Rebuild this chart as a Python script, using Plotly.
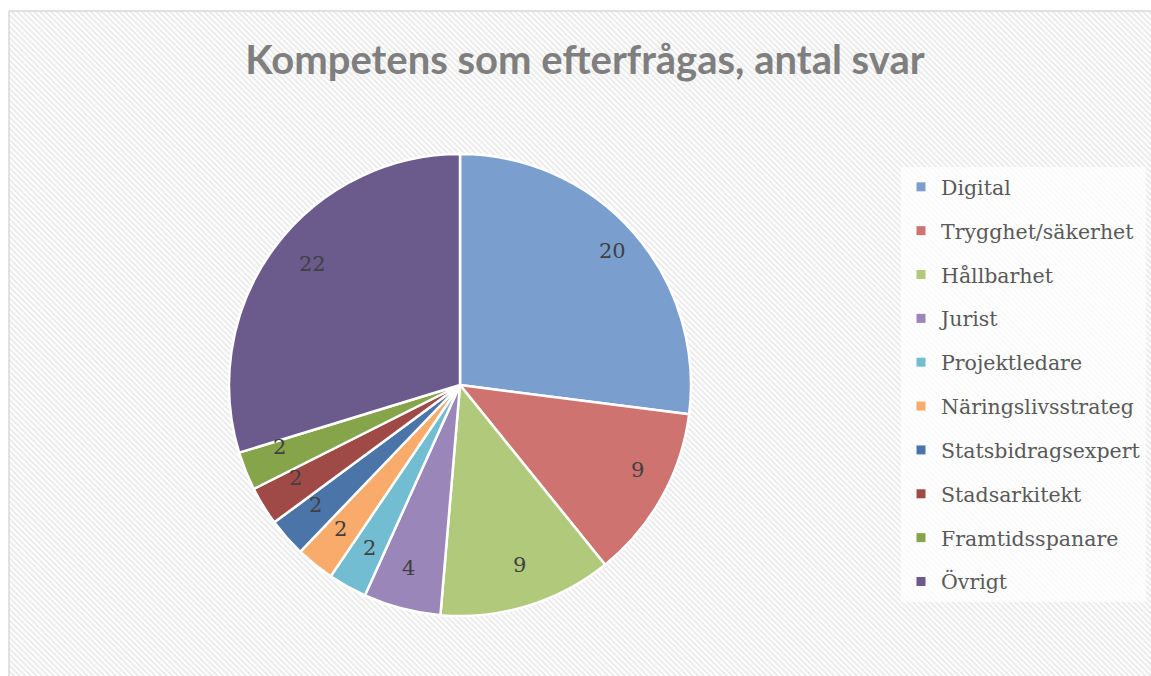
import math
import plotly.graph_objects as go

categories = ["Digital", "Trygghet/säkerhet", "Hållbarhet", "Jurist", "Projektledare",
              "Näringslivsstrateg", "Statsbidragsexpert", "Stadsarkitekt", "Framtidsspanare", "Övrigt"]
values = [20, 9, 9, 4, 2, 2, 2, 2, 2, 22]
colors = ["#7A9FCF", "#CE7370", "#B0C97A", "#9A86B8", "#72BDD1",
          "#F8AB6B", "#4B75A8", "#A04A47", "#86A44A", "#6B5A8C"]
title_text = "Kompetens som efterfrågas, antal svar"

W, H = 1151, 676
CX, CY, R = 460, 385, 231  # pie centre / radius in px

fig = go.Figure()

# hatched chart background
x0 = 9 / W
y1 = 1 - 11 / H
fig.add_trace(go.Scatter(
    x=[x0, 1, 1, x0, x0], y=[0, 0, y1, y1, 0],
    mode="lines", fill="toself", line=dict(width=0),
    fillcolor="white",
    fillpattern=dict(shape="\\", size=4, solidity=0.5, fgcolor="#D6D6D6", bgcolor="white"),
    hoverinfo="skip", showlegend=False))

fig.add_trace(go.Pie(
    labels=categories, values=values, sort=False, direction="clockwise", rotation=0,
    marker=dict(colors=colors, line=dict(color="white", width=2.5)),
    textinfo="none", showlegend=False,
    domain=dict(x=[(CX - R) / W, (CX + R) / W], y=[(H - CY - R) / H, (H - CY + R) / H])))

# legend entries
for i, (c, col) in enumerate(zip(categories, colors)):
    fig.add_trace(go.Scatter(
        x=[None], y=[None], mode="markers", name=c, legendgroup=f"g{i}",
        marker=dict(symbol="square", size=9, color=col, line=dict(width=0))))

# data labels
total = sum(values)
cum = 0
for v in values:
    mid = (cum + v / 2) / total * 2 * math.pi
    cum += v
    px = CX + 0.88 * R * math.sin(mid)
    py = CY - 0.88 * R * math.cos(mid)
    fig.add_annotation(x=px / W, y=1 - py / H, xref="paper", yref="paper", text=str(v),
                       showarrow=False, font=dict(family="DejaVu Serif", size=21, color="#404040"))

fig.add_shape(type="line", xref="paper", yref="paper", x0=x0, x1=x0, y0=0, y1=y1,
              line=dict(color="#D9D9D9", width=1.5))
fig.add_shape(type="line", xref="paper", yref="paper", x0=x0, x1=1, y0=y1, y1=y1,
              line=dict(color="#D9D9D9", width=1.5))

fig.update_layout(
    width=W, height=H, margin=dict(l=0, r=0, t=0, b=0),
    paper_bgcolor="white", plot_bgcolor="rgba(0,0,0,0)",
    xaxis=dict(range=[0, 1], domain=[0, 1], visible=False, fixedrange=True),
    yaxis=dict(range=[0, 1], domain=[0, 1], visible=False, fixedrange=True),
    title=dict(text=title_text, x=585 / W, xanchor="center", y=1 - 60 / H, yanchor="middle",
               font=dict(family="Lato", size=40, weight="bold", color="#7F7F7F")),
    legend=dict(x=901 / W, xanchor="left", y=1 - 167 / H, yanchor="top",
                bgcolor="rgba(255,255,255,0.75)", borderwidth=0,
                traceorder="grouped", tracegroupgap=14.2, itemwidth=30,
                font=dict(family="DejaVu Serif", size=20.5, color="#595959")),
    showlegend=True,
)

fig.write_html("out.html", config={"displayModeBar": False},
               post_script="document.body.style.margin='0';document.body.style.overflow='hidden';")
